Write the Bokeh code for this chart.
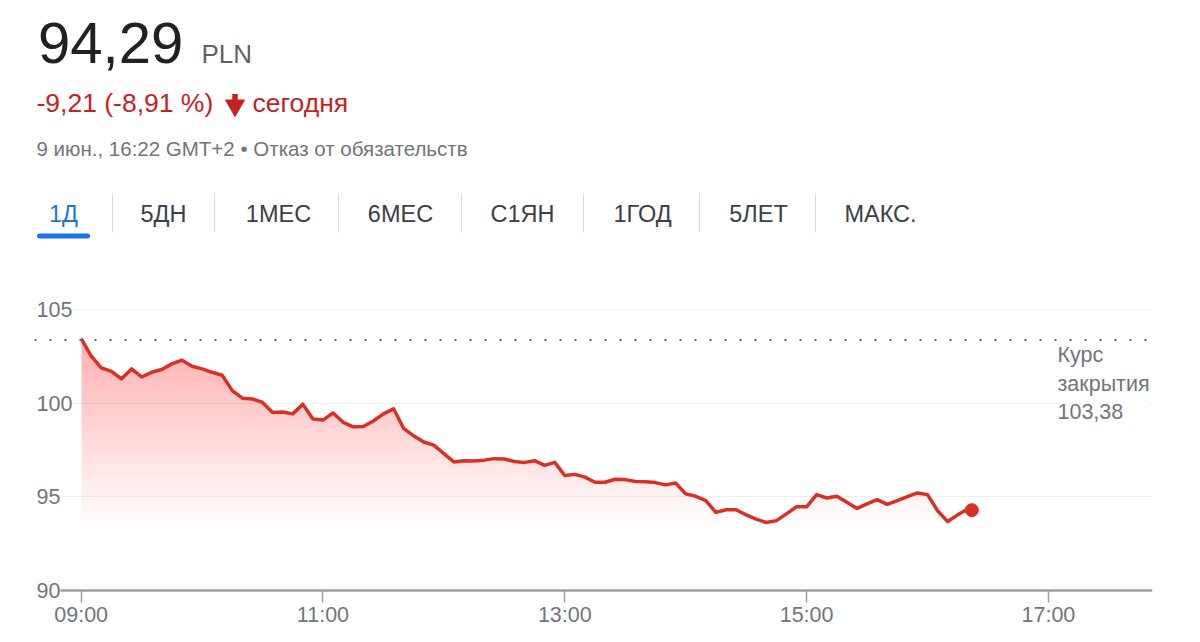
import numpy as np
from bokeh.plotting import figure
from bokeh.models import (Range1d, FixedTicker, Span, Label, LabelSet, ColumnDataSource,
                          Grid, LinearAxis)
from bokeh.embed import file_html
from bokeh.resources import INLINE
from bokeh.core.properties import value

FONT = "Liberation Sans"

# ---------------- data ----------------
times = [
    "09:00", "09:05", "09:10", "09:15", "09:20", "09:25", "09:30", "09:35", "09:40", "09:45", "09:50", "09:55",
    "10:00", "10:05", "10:10", "10:15", "10:20", "10:25", "10:30", "10:35", "10:40", "10:45", "10:50", "10:55",
    "11:00", "11:05", "11:10", "11:15", "11:20", "11:25", "11:30", "11:35", "11:40", "11:45", "11:50", "11:55",
    "12:00", "12:05", "12:10", "12:15", "12:20", "12:25", "12:30", "12:35", "12:40", "12:45", "12:50", "12:55",
    "13:00", "13:05", "13:10", "13:15", "13:20", "13:25", "13:30", "13:35", "13:40", "13:45", "13:50", "13:55",
    "14:00", "14:05", "14:10", "14:15", "14:20", "14:25", "14:30", "14:35", "14:40", "14:45", "14:50", "14:55",
    "15:00", "15:05", "15:10", "15:15", "15:20", "15:25", "15:30", "15:35", "15:40", "15:45", "15:50", "15:55",
    "16:00", "16:05", "16:10", "16:15", "16:20", "16:22",
]
prices = [
    103.45, 102.51, 101.89, 101.70, 101.30, 101.83, 101.40, 101.65, 101.80, 102.10, 102.30, 101.97,
    101.83, 101.65, 101.49, 100.67, 100.27, 100.23, 100.04, 99.50, 99.53, 99.43, 99.95, 99.16,
    99.10, 99.48, 98.98, 98.74, 98.76, 99.05, 99.43, 99.70, 98.66, 98.26, 97.93, 97.76,
    97.31, 96.86, 96.93, 96.91, 96.96, 97.04, 97.02, 96.89, 96.84, 96.93, 96.68, 96.84,
    96.14, 96.20, 96.05, 95.78, 95.78, 95.94, 95.92, 95.82, 95.80, 95.76, 95.64, 95.74,
    95.16, 95.03, 94.80, 94.17, 94.31, 94.31, 94.04, 93.81, 93.63, 93.73, 94.09, 94.47,
    94.47, 95.12, 94.94, 95.03, 94.71, 94.38, 94.62, 94.85, 94.60, 94.80, 95.01, 95.21,
    95.12, 94.26, 93.68, 94.04, 94.35, 94.29,
]
prev_close = 103.38
prev_close_label = "Курс\nзакрытия\n103,38"

x_tick_values = [9, 11, 13, 15, 17]
x_tick_labels = ["09:00", "11:00", "13:00", "15:00", "17:00"]
y_tick_values = [90, 95, 100, 105]
y_tick_labels = ["90", "95", "100", "105"]

price_text = "94,29"
currency_text = "PLN"
change_text = "-9,21 (-8,91 %)"
change_word = "сегодня"
date_text = "9 июн., 16:22 GMT+2 • Отказ от обязательств"
tabs = ["1Д", "5ДН", "1МЕС", "6МЕС", "С1ЯН", "1ГОД", "5ЛЕТ", "МАКС."]

# ---------------- styles ----------------
RED = "#d93025"
RED_TEXT = "#c5221f"
GRAY = "#70757a"
DARK = "#202124"
BLUE = "#1a73e8"

W, H = 1184, 626
ML, MR = 34, 32          # frame borders (left / right)
T0, T1 = 8.614, 17.861   # time range across the frame (hours)
P0, P1 = 88.078, 121.50  # price range across the frame

# single figure; default ranges = page pixels (for header), extra ranges for the chart
p = figure(width=W, height=H, x_range=Range1d(ML, W - MR), y_range=Range1d(H, 0),
           toolbar_location=None, output_backend="svg", title=None,
           min_border=0, min_border_left=ML, min_border_right=MR,
           x_axis_location=None, y_axis_location=None, outline_line_color=None)
p.grid.visible = False
p.extra_x_ranges = {"time": Range1d(T0, T1)}
p.extra_y_ranges = {"price": Range1d(P0, P1)}

# ---------------- header ----------------
def htext(x, y, t, size, color, align="left"):
    p.text(x=[x], y=[y], text=[t], text_font=value(FONT), text_font_size=size,
           text_color=color, text_align=align, text_baseline="alphabetic")

htext(37.5, 42.5, price_text, "58px", DARK)
htext(201, 53, currency_text, "26px", "#5f6368")
htext(36, 102.5, change_text, "26.5px", RED_TEXT)
p.segment(x0=[234.5], y0=[93.5], x1=[234.5], y1=[103], line_width=5.5, line_color=RED_TEXT)
p.scatter(x=[234.5], y=[105], marker="inverted_triangle", size=19, fill_color=RED_TEXT, line_color=RED_TEXT)
htext(252, 102.5, change_word, "26.5px", RED_TEXT)
htext(36, 147.5, date_text, "20.5px", GRAY)

tab_x = [63, 163, 278, 400, 522, 642, 758, 880]
sep_x = [112, 214, 338, 461, 583, 699, 815]
for i, t in enumerate(tabs):
    htext(tab_x[i], 213, t, "23.5px", BLUE if i == 0 else "#3c4043", align="center")
p.segment(x0=sep_x, y0=[193] * len(sep_x), x1=sep_x, y1=[232] * len(sep_x),
          line_color="#dadce0", line_width=1.2)
p.segment(x0=[39], y0=[235.5], x1=[87], y1=[235.5], line_width=5, line_cap="round", line_color=BLUE)

# ---------------- chart ----------------
hours = np.array([int(t[:2]) + int(t[3:]) / 60 for t in times])
vals = np.array(prices)
R = dict(x_range_name="time", y_range_name="price")

p.add_layout(Grid(dimension=1, ticker=FixedTicker(ticks=y_tick_values[1:]),
                  grid_line_color="#efefef", grid_line_width=1.2, **R))

ax = LinearAxis(fixed_location=y_tick_values[0], bounds=(8.812, T1), **R)
ax.ticker = FixedTicker(ticks=x_tick_values)
ax.major_label_overrides = {v: l for v, l in zip(x_tick_values, x_tick_labels)}
ax.axis_line_color = "#9aa0a6"
ax.axis_line_width = 2.5
ax.major_tick_line_color = "#9aa0a6"
ax.major_tick_line_width = 1.5
ax.major_tick_out = 12
ax.major_tick_in = 0
ax.minor_tick_line_color = None
ax.major_label_standoff = 0
ax.major_label_text_font = FONT
ax.major_label_text_font_size = "21.5px"
ax.major_label_text_color = GRAY
p.add_layout(ax, "below")

# gradient fill under the line: stacked translucent layers
levels = np.arange(93.5, 103.6, 0.25)
for lv in levels:
    p.varea(x=hours, y1=np.full(len(hours), lv), y2=np.maximum(vals, lv),
            fill_color=RED, fill_alpha=0.0064, **R)

p.add_layout(Span(location=prev_close, dimension="width", line_color="#5f6368",
                  line_width=2, line_dash="2 13", y_range_name="price"))

p.line(hours, vals, line_color=RED, line_width=3.5, line_join="round", **R)
p.scatter([hours[-1]], [vals[-1]], size=13, fill_color=RED, line_color=RED, **R)

ysrc = ColumnDataSource(dict(x=[T0] * len(y_tick_values), y=y_tick_values, text=y_tick_labels))
p.add_layout(LabelSet(x="x", y="y", text="text", source=ysrc, x_offset=2,
                      text_font=value(FONT), text_font_size="21.5px", text_color=GRAY,
                      text_align="left", text_baseline="middle",
                      background_fill_color="white", **R))

p.add_layout(Label(x=17.075, y=prev_close, y_offset=-3, text=prev_close_label,
                   text_font=FONT, text_font_size="21.5px", text_color=GRAY,
                   text_align="left", text_baseline="top", background_fill_color="white", **R))

open("out.html", "w").write(file_html(p, INLINE))
